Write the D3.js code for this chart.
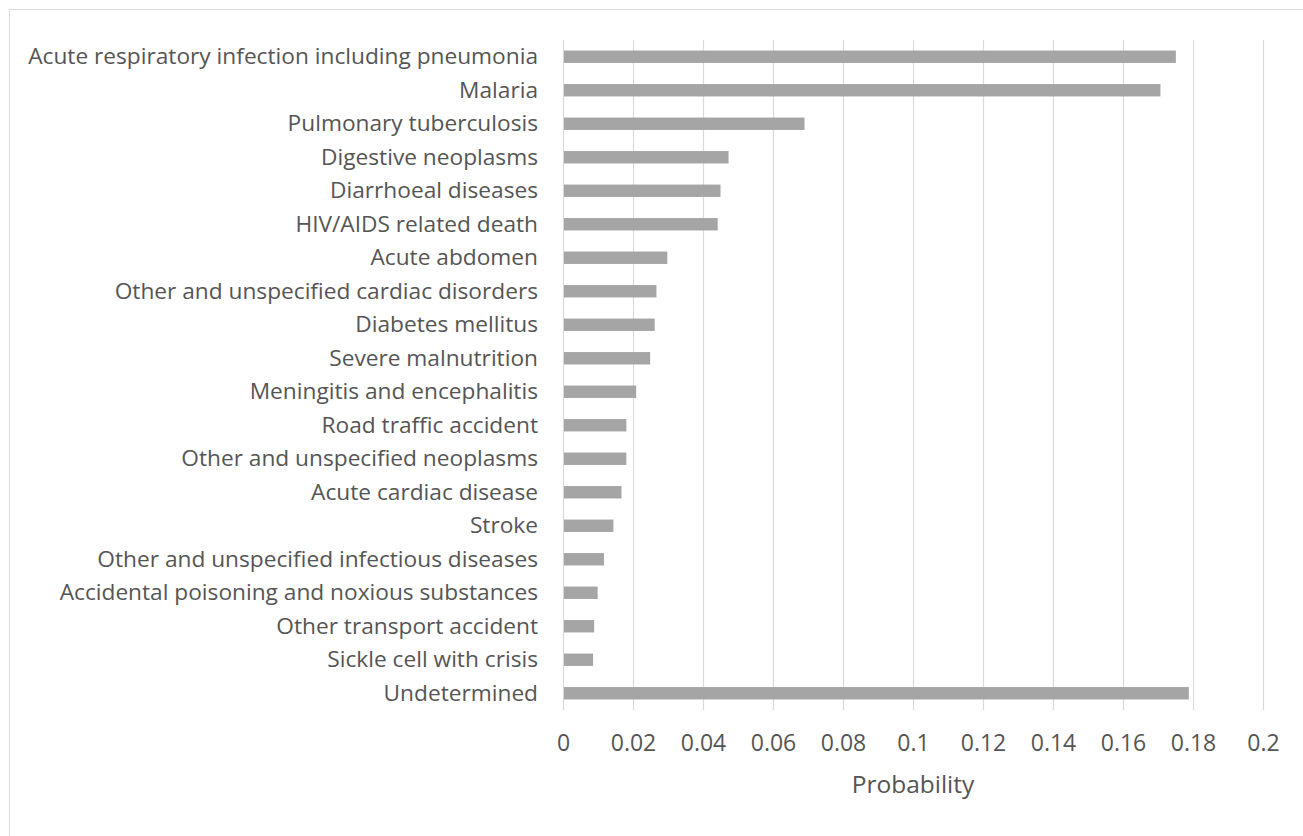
<!DOCTYPE html>
<html>
<head>
<meta charset="utf-8">
<script src="https://cdn.jsdelivr.net/npm/d3@7"></script>
<style>
  body { margin: 0; background: #fff; }
  svg text { font-family: "Open Sans", Lato, sans-serif; fill: #555; }
</style>
</head>
<body>
<div id="chart"></div>
<script>
let causes = [
  "Acute respiratory infection including pneumonia",
  "Malaria",
  "Pulmonary tuberculosis",
  "Digestive neoplasms",
  "Diarrhoeal diseases",
  "HIV/AIDS related death",
  "Acute abdomen",
  "Other and unspecified cardiac disorders",
  "Diabetes mellitus",
  "Severe malnutrition",
  "Meningitis and encephalitis",
  "Road traffic accident",
  "Other and unspecified neoplasms",
  "Acute cardiac disease",
  "Stroke",
  "Other and unspecified infectious diseases",
  "Accidental poisoning and noxious substances",
  "Other transport accident",
  "Sickle cell with crisis",
  "Undetermined"
];
let probability = [
  0.1751, 0.1707, 0.0690, 0.0473, 0.0450, 0.0442, 0.0298, 0.0267, 0.0262, 0.0249,
  0.0209, 0.0181, 0.0181, 0.0167, 0.0144, 0.0117, 0.0099, 0.0089, 0.0086, 0.1788
];
let xTicks = [0, 0.02, 0.04, 0.06, 0.08, 0.1, 0.12, 0.14, 0.16, 0.18, 0.2];
let xTitle = "Probability";

let width = 1303, height = 836;
let margin = {left: 563, right: 40, top: 40, bottom: 126};

let svg = d3.select("#chart").append("svg").attr("width", width).attr("height", height);

// outer frame
svg.append("rect")
   .attr("x", 9.5).attr("y", 9.5)
   .attr("width", width).attr("height", height)
   .attr("fill", "none").attr("stroke", "#d9d9d9");

let xScale = d3.scaleLinear().domain([0, 0.2]).range([margin.left, width - margin.right]);
let yScale = d3.scaleBand().domain(causes).range([margin.top, height - margin.bottom]).paddingInner(0.63).paddingOuter(0.315);

// gridlines
svg.append("g").selectAll("line").data(xTicks).enter().append("line")
   .attr("x1", d => Math.round(xScale(d)) + 0.5)
   .attr("x2", d => Math.round(xScale(d)) + 0.5)
   .attr("y1", margin.top)
   .attr("y2", height - margin.bottom)
   .attr("stroke", "#d9d9d9").attr("stroke-width", 1.2);

// bars
svg.append("g").selectAll("rect").data(probability).enter().append("rect")
   .attr("x", xScale(0) + 1)
   .attr("y", (d, i) => yScale(causes[i]))
   .attr("width", d => xScale(d) - xScale(0) - 1)
   .attr("height", yScale.bandwidth())
   .attr("fill", "#a5a5a5");

// x axis tick labels
let xAxis = d3.axisBottom(xScale).tickValues(xTicks).tickSize(0).tickPadding(0).tickFormat(d3.format("~g"));
let xg = svg.append("g").attr("transform", "translate(0," + 735 + ")").call(xAxis);
xg.select(".domain").remove();
xg.selectAll("text").attr("font-size", 23).attr("font-family", null).style("fill", "#555");

// y axis labels
let yAxis = d3.axisLeft(yScale).tickSize(0).tickPadding(25);
let yg = svg.append("g").attr("transform", "translate(" + margin.left + ",0)").call(yAxis);
yg.select(".domain").remove();
yg.selectAll("text").attr("font-size", 22.7).attr("font-family", null).style("fill", "#555");

// axis title
svg.append("text")
   .attr("x", (xScale(0) + xScale(0.2)) / 2)
   .attr("y", 793)
   .attr("text-anchor", "middle")
   .attr("font-size", 24.5)
   .text(xTitle);
</script>
</body>
</html>
